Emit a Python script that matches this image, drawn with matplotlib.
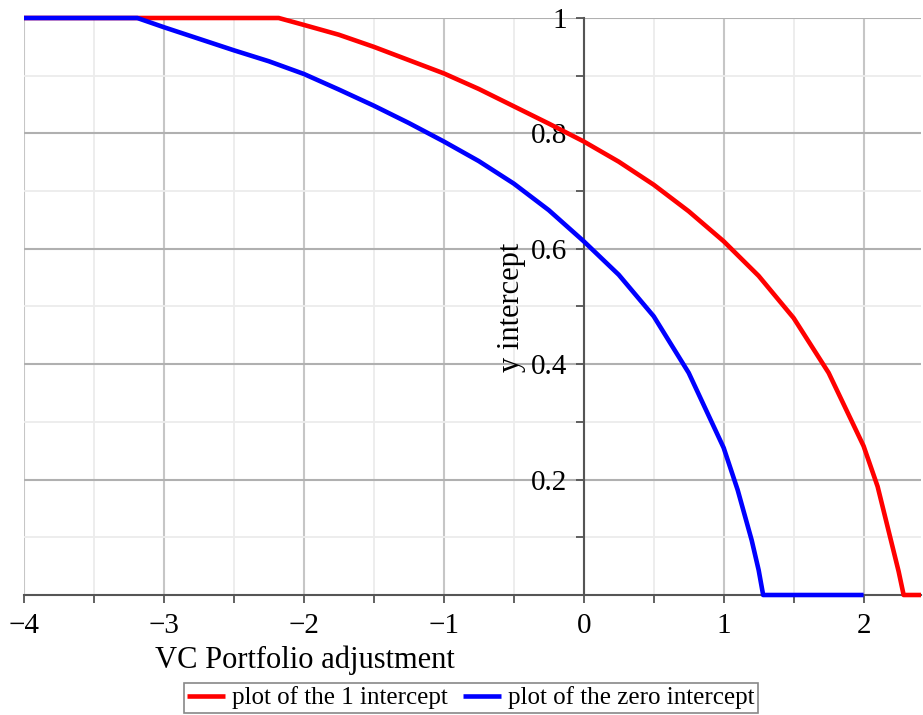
import matplotlib
matplotlib.use("Agg")
import matplotlib.pyplot as plt
from matplotlib.ticker import MultipleLocator, FixedLocator

plt.rcParams['font.family'] = ['Liberation Serif', 'DejaVu Serif']

# Data
red_x = [-4, -2.18, -2, -1.75, -1.5, -1.25, -1, -0.75, -0.5, -0.25, 0, 0.25, 0.5, 0.75,
         1, 1.25, 1.5, 1.75, 2, 2.1, 2.2, 2.25, 2.286, 2.41]
red_y = [1, 1, 0.988, 0.971, 0.950, 0.927, 0.904, 0.877, 0.847, 0.817, 0.786, 0.751, 0.711, 0.665,
         0.613, 0.553, 0.480, 0.385, 0.258, 0.188, 0.090, 0.041, 0, 0]

blue_x = [-4, -3.19, -3, -2.5, -2.25, -2, -1.75, -1.5, -1.25, -1, -0.75, -0.5, -0.25, 0,
          0.25, 0.5, 0.75, 1, 1.1, 1.2, 1.25, 1.282, 2]
blue_y = [1, 1, 0.984, 0.944, 0.925, 0.903, 0.876, 0.848, 0.818, 0.786, 0.752, 0.713, 0.667, 0.613,
          0.555, 0.483, 0.385, 0.255, 0.182, 0.095, 0.043, 0, 0]

x_ticks = [-4, -3, -2, -1, 0, 1, 2]
x_tick_labels = ['\u22124', '\u22123', '\u22122', '\u22121', '0', '1', '2']
y_ticks = [0.2, 0.4, 0.6, 0.8, 1]
y_tick_labels = ['0.2', '0.4', '0.6', '0.8', '1']

W, H = 923, 715
fig = plt.figure(figsize=(W / 100, H / 100), dpi=100)
left_px, right_px, top_px, bot_px = 24, 921, 18, 595
ax = fig.add_axes([left_px / W, 1 - bot_px / H, (right_px - left_px) / W, (bot_px - top_px) / H])
ax.set_xlim(-4, 2.41)
ax.set_ylim(0, 1)

# grid
ax.xaxis.set_major_locator(FixedLocator(x_ticks))
ax.xaxis.set_minor_locator(MultipleLocator(0.5))
ax.yaxis.set_major_locator(FixedLocator(y_ticks))
ax.yaxis.set_minor_locator(MultipleLocator(0.1))
ax.grid(which='minor', color='#ececec', lw=1.3, zorder=0)
ax.grid(which='major', axis='x', color='#c6c6c6', lw=1.5, zorder=0)
ax.grid(which='major', axis='y', color='#b0b0b0', lw=1.5, zorder=0)
ax.set_axisbelow(True)

# spines Maple-style
for s in ['top', 'right']:
    ax.spines[s].set_visible(False)
ax.spines['left'].set_position(('data', 0))
ax.spines['left'].set_color('#555555')
ax.spines['left'].set_linewidth(1.5)
ax.spines['bottom'].set_color('#555555')
ax.spines['bottom'].set_linewidth(1.5)

ax.set_xticklabels(x_tick_labels)
ax.set_yticklabels(y_tick_labels)
ax.tick_params(which='both', direction='out', length=6, width=1.3, color='#555555')
ax.tick_params(axis='x', which='major', pad=7, labelsize=21)
ax.tick_params(axis='y', which='major', pad=6, labelsize=21)

l1, = ax.plot(red_x, red_y, color='#ff0000', lw=3.3, solid_capstyle='butt', solid_joinstyle='round',
              clip_on=False, zorder=3, label='plot of the 1 intercept')
l2, = ax.plot(blue_x, blue_y, color='#0000ff', lw=3.3, solid_capstyle='butt', solid_joinstyle='round',
              clip_on=False, zorder=3, label='plot of the zero intercept')

fig.text(305 / W, 1 - 660 / H, 'VC Portfolio adjustment', ha='center', va='center', fontsize=22)
fig.text(512 / W, 1 - 307 / H, 'y intercept', ha='center', va='center', rotation=90, fontsize=22)

leg = fig.legend(handles=[l1, l2], loc='center', bbox_to_anchor=(471 / W, 1 - 698 / H), ncol=2,
                 fancybox=False, edgecolor='#888888', fontsize=18, handlelength=1.5,
                 handletextpad=0.3, columnspacing=0.6, borderpad=0.15, framealpha=1)
leg.get_frame().set_linewidth(1.2)

fig.savefig('out.png', dpi=100)
